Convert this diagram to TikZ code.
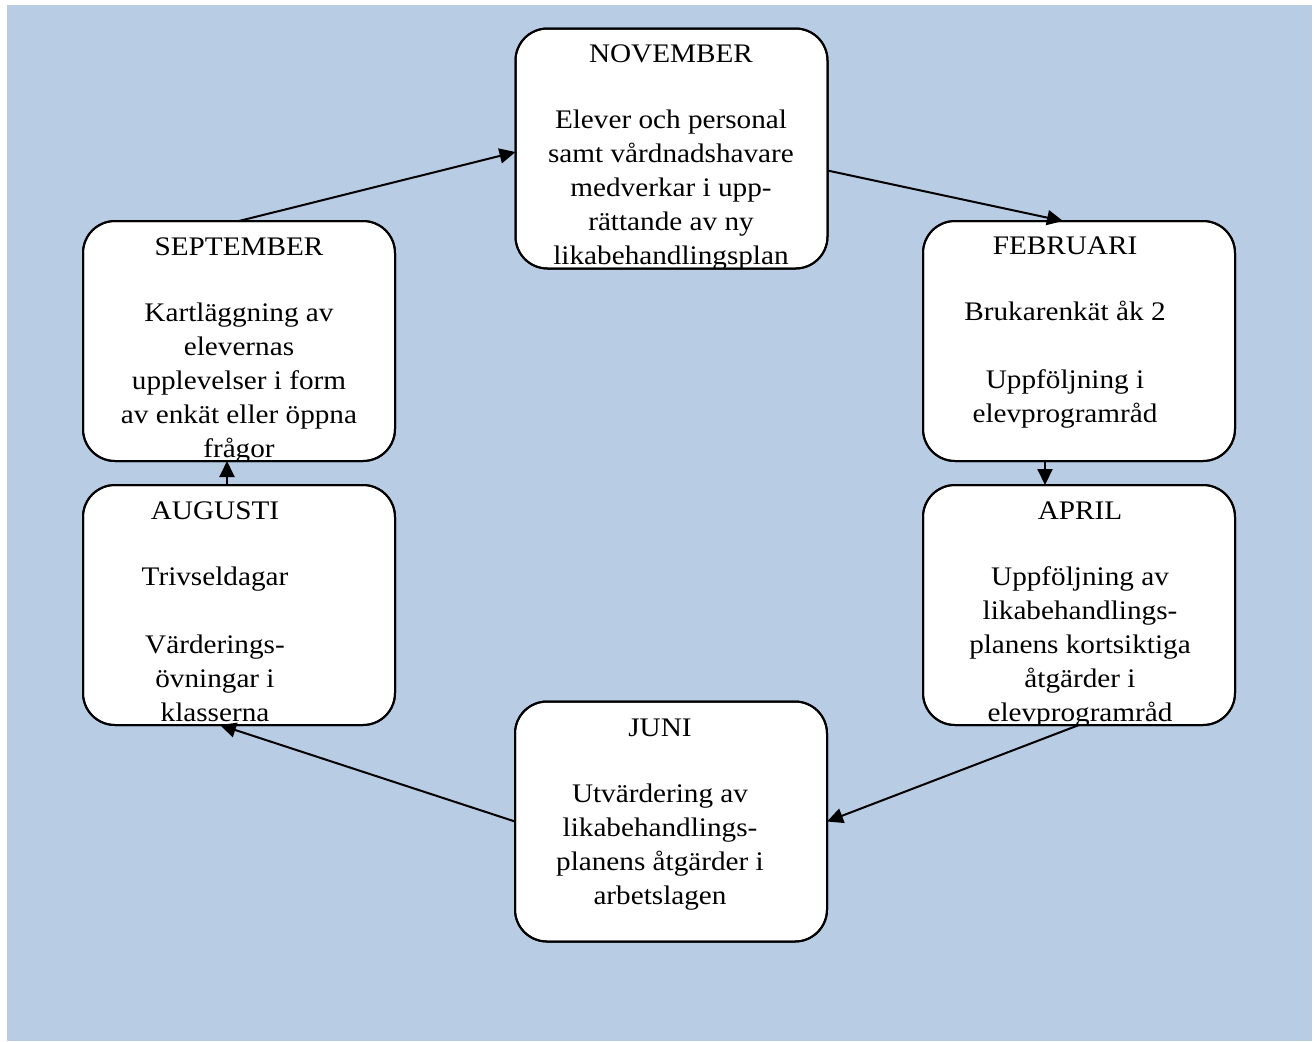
\documentclass[tikz,border=0pt]{standalone}
\usepackage{fontspec}
\setmainfont{Liberation Serif}[FakeStretch=1.09]
\usetikzlibrary{arrows.meta}
\definecolor{bgblue}{RGB}{184,204,228}
\begin{document}
\begin{tikzpicture}[x=0.5pt,y=-0.5pt,
  box/.style={draw=black, line width=1pt, fill=white, rounded corners=16pt,
    minimum width=156pt, minimum height=120pt, inner sep=0pt, outer sep=0pt},
  boxline/.style={draw=black, line width=1pt, rounded corners=16pt},
  txt/.style={anchor=base, inner sep=0pt, font=\fontsize{13.4pt}{17pt}\selectfont},
  arr/.style={draw=black, line width=1pt, -{Triangle[length=8pt,width=7.5pt]}}]
\useasboundingbox (0,0) rectangle (1316,1041);
\fill[bgblue] (7,5) rectangle (1312,1041);

% boxes
\node[box] (nov)  at (671.5,148.5) {};
\node[box] (sep)  at (239,341) {};
\node[box] (feb)  at (1079,341) {};
\node[box] (apr)  at (1079,605) {};
\node[box] (aug)  at (239,605) {};
\node[box] (juni) at (671,821.5) {};

% texts, clipped to their boxes
\begin{scope}
\clip[rounded corners=16pt] (nov.south west) rectangle (nov.north east);
\node[txt] (novt) at (671,62) {\parbox[t]{160pt}{\centering NOVEMBER\\[16pt]
Elever och personal\\ samt vårdnadshavare\\ medverkar i upp-\\ rättande av ny\\ likabehandlingsplan}};
\end{scope}
\begin{scope}
\clip[rounded corners=16pt] (sep.south west) rectangle (sep.north east);
\node[txt] (sept) at (239,255) {\parbox[t]{160pt}{\centering SEPTEMBER\\[16pt]
Kartläggning av\\ elevernas\\ upplevelser i form\\ av enkät eller öppna\\ frågor}};
\end{scope}
\begin{scope}
\clip[rounded corners=16pt] (feb.south west) rectangle (feb.north east);
\node[txt] (febt) at (1065,254) {\parbox[t]{160pt}{\centering FEBRUARI\\[16pt]
Brukarenkät åk 2\\[17pt] Uppföljning i\\ elevprogramråd}};
\end{scope}
\begin{scope}
\clip[rounded corners=16pt] (apr.south west) rectangle (apr.north east);
\node[txt] (aprt) at (1080,519) {\parbox[t]{160pt}{\centering APRIL\\[16pt]
Uppföljning av\\ likabehandlings-\\ planens kortsiktiga\\ åtgärder i\\ elevprogramråd}};
\end{scope}
\begin{scope}
\clip[rounded corners=16pt] (aug.south west) rectangle (aug.north east);
\node[txt] (augt) at (215,519) {\parbox[t]{160pt}{\centering AUGUSTI\\[16pt]
Trivseldagar\\[17pt] Värderings-\\ övningar i\\ klasserna}};
\end{scope}
\begin{scope}
\clip[rounded corners=16pt] (juni.south west) rectangle (juni.north east);
\node[txt] (junit) at (660,736) {\parbox[t]{160pt}{\centering JUNI\\[16pt]
Utvärdering av\\ likabehandlings-\\ planens åtgärder i\\ arbetslagen}};
\end{scope}

% outlines over the clipped text
\foreach \n in {nov,sep,feb,apr,aug,juni}
  \draw[boxline] (\n.south west) rectangle (\n.north east);

% connectors
\draw[arr] (sep.north) -- ([yshift=-1.75pt]nov.west);
\draw[arr] ([yshift=-11pt]nov.east) -- ([xshift=-8pt]feb.north);
\draw[arr] ([xshift=-17pt]feb.south) -- ([xshift=-17pt]apr.north);
\draw[arr] (apr.south) -- (juni.east);
\draw[arr] (juni.west) -- ([xshift=-9.5pt]aug.south);
\draw[arr] ([xshift=-6pt]aug.north) -- ([xshift=-6pt]sep.south);
\end{tikzpicture}
\end{document}
